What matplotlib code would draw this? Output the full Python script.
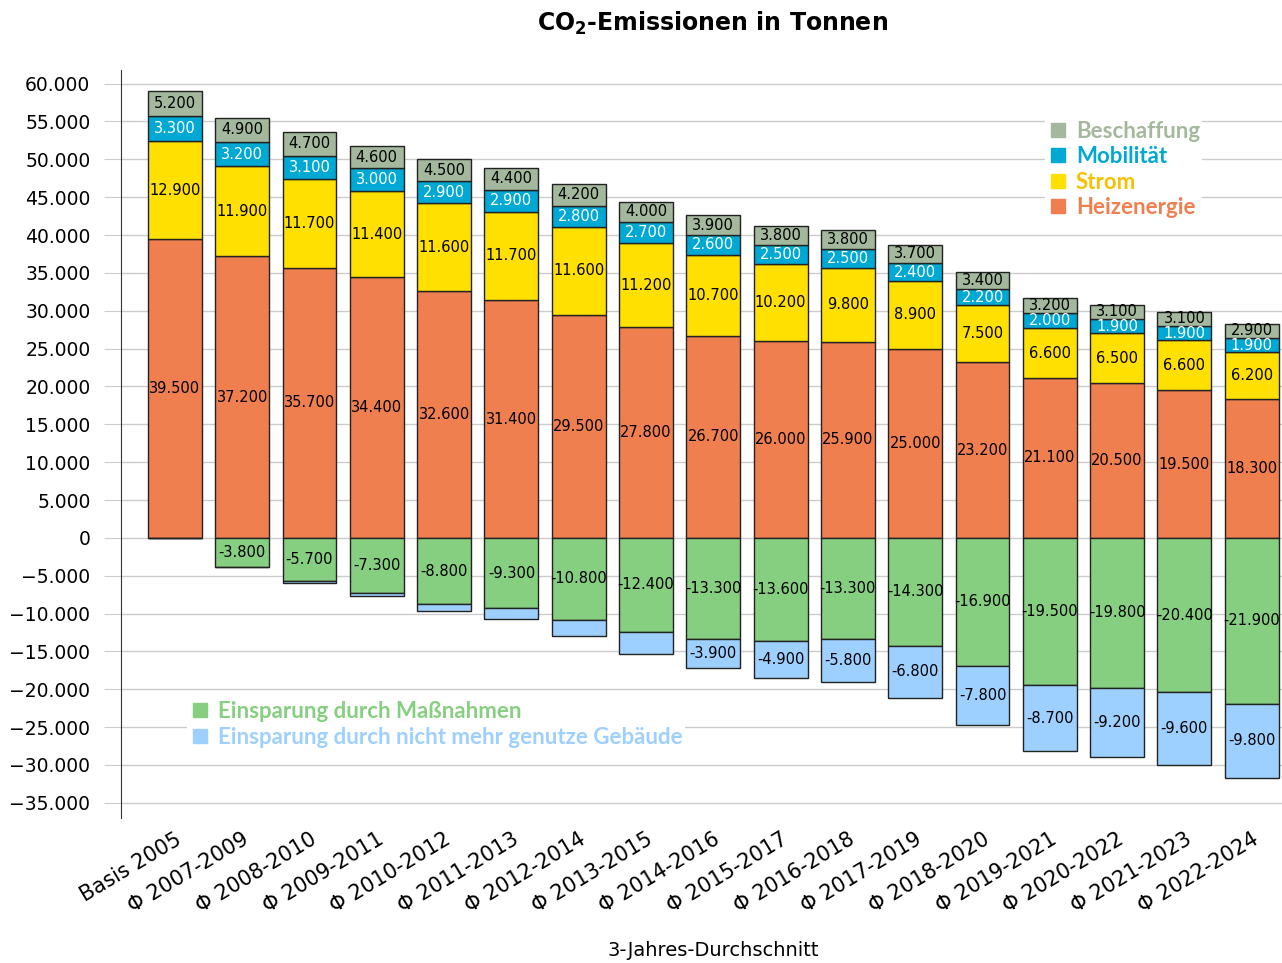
import numpy as np
import matplotlib.pyplot as plt
from matplotlib.lines import Line2D

# Zeiträume
zeitraum = ['Basis 2005', 'Φ 2007-2009', 'Φ 2008-2010', 'Φ 2009-2011', 'Φ 2010-2012',
            'Φ 2011-2013', 'Φ 2012-2014', 'Φ 2013-2015', 'Φ 2014-2016', 'Φ 2015-2017',
            'Φ 2016-2018', 'Φ 2017-2019', 'Φ 2018-2020', 'Φ 2019-2021', 'Φ 2020-2022',
            'Φ 2021-2023', 'Φ 2022-2024']

# Werte in Tonnen
heizenergie = [39500, 37200, 35700, 34400, 32600, 31400, 29500, 27800, 26700, 26000,
               25900, 25000, 23200, 21100, 20500, 19500, 18300]
strom = [12900, 11900, 11700, 11400, 11600, 11700, 11600, 11200, 10700, 10200,
         9800, 8900, 7500, 6600, 6500, 6600, 6200]
mobilitaet = [3300, 3200, 3100, 3000, 2900, 2900, 2800, 2700, 2600, 2500,
              2500, 2400, 2200, 2000, 1900, 1900, 1900]
beschaffung = [5200, 4900, 4700, 4600, 4500, 4400, 4200, 4000, 3900, 3800,
               3800, 3700, 3400, 3200, 3100, 3100, 2900]
massnahmen = [0, -3800, -5700, -7300, -8800, -9300, -10800, -12400, -13300, -13600,
              -13300, -14300, -16900, -19500, -19800, -20400, -21900]
gebaeude = [0, 0, -200, -400, -900, -1400, -2200, -2900, -3900, -4900,
            -5800, -6800, -7800, -8700, -9200, -9600, -9800]

c_heiz = '#F07F4F'
c_strom = '#FFE000'
c_mob = '#00A8D4'
c_besch = '#A3B89C'
c_mass = '#86CE80'
c_geb = '#9DCFFF'

def fmt(v):
    return f'{v:,.0f}'.replace(',', '.')

fig = plt.figure(figsize=(12.82, 9.63), dpi=100)
ax = fig.add_axes([0.0944, 0.1506, 0.9056, 0.7767])

x = np.arange(len(zeitraum))
w = 0.8
ek = dict(edgecolor='#222222', linewidth=1.0, zorder=3)

heiz = np.array(heizenergie)
st = np.array(strom)
mob = np.array(mobilitaet)
mass = np.array(massnahmen)

ax.bar(x, heiz, w, color=c_heiz, **ek)
ax.bar(x, st, w, bottom=heiz, color=c_strom, **ek)
ax.bar(x, mob, w, bottom=heiz + st, color=c_mob, **ek)
# im Original ist das Beschaffungs-Segment so hoch wie das Mobilitaets-Segment
ax.bar(x, mob, w, bottom=heiz + st + mob, color=c_besch, **ek)
ax.bar(x, mass, w, color=c_mass, **ek)
ax.bar(x, gebaeude, w, bottom=mass, color=c_geb, **ek)

fs = 10.5
for i in x:
    ax.text(i, heiz[i] / 2, fmt(heizenergie[i]), ha='center', va='center', fontsize=fs, zorder=4)
    ax.text(i, heiz[i] + st[i] / 2, fmt(strom[i]), ha='center', va='center', fontsize=fs, zorder=4)
    ax.text(i, heiz[i] + st[i] + mob[i] / 2, fmt(mobilitaet[i]), ha='center', va='center',
            fontsize=fs, color='white', zorder=4)
    ax.text(i, heiz[i] + st[i] + mob[i] * 1.5, fmt(beschaffung[i]), ha='center', va='center',
            fontsize=fs, zorder=4)
    if massnahmen[i] != 0:
        ax.text(i, mass[i] / 2, fmt(massnahmen[i]), ha='center', va='center',
                fontsize=fs, zorder=4)
    if gebaeude[i] <= -3500:
        ax.text(i, mass[i] + gebaeude[i] / 2, fmt(gebaeude[i]), ha='center', va='center',
                fontsize=fs, zorder=4)

ax.set_xlim(-0.8, 16.45)
ax.set_ylim(-37000, 61800)
ax.set_yticks(np.arange(-35000, 60001, 5000))
ax.set_yticklabels([fmt(v).replace('-', '\u2212') for v in np.arange(-35000, 60001, 5000)],
                   fontsize=13.5)
ax.set_xticks(x)
ax.set_xticklabels(zeitraum, rotation=31, ha='right', rotation_mode='anchor', fontsize=15)
ax.tick_params(axis='x', length=0, pad=8)
ax.tick_params(axis='y', length=12, color='#cccccc', pad=10)
ax.grid(axis='y', color='#cccccc', linewidth=1, zorder=0)
ax.set_axisbelow(True)
for s in ['top', 'right', 'bottom']:
    ax.spines[s].set_visible(False)
ax.spines['left'].set_color('#333333')

fig.text(0.556, 0.976, 'CO$_\\mathregular{2}$-Emissionen in Tonnen', ha='center', va='center',
         fontsize=17, fontweight='bold')
fig.text(0.556, 0.013, '3-Jahres-Durchschnitt', ha='center', va='center', fontsize=14)

def sq(c):
    return Line2D([], [], marker='s', linestyle='none', markersize=10, color=c)

leg_prop = {'family': 'Lato', 'weight': 'bold', 'size': 16}

leg1 = ax.legend([sq(c_besch), sq(c_mob), sq(c_strom), sq(c_heiz)],
                 ['Beschaffung', 'Mobilität', 'Strom', 'Heizenergie'],
                 loc='upper left', bbox_to_anchor=(0.786, 0.95), frameon=True, fancybox=False,
                 edgecolor='none', framealpha=1, borderpad=0.1, labelspacing=0.2,
                 handletextpad=0.3, handlelength=1.0, prop=leg_prop)
for t, c in zip(leg1.get_texts(), [c_besch, c_mob, '#F7C000', c_heiz]):
    t.set_color(c)
ax.add_artist(leg1)

leg2 = ax.legend([sq(c_mass), sq(c_geb)],
                 ['Einsparung durch Maßnahmen', 'Einsparung durch nicht mehr genutze Gebäude'],
                 loc='upper left', bbox_to_anchor=(0.047, 0.174), frameon=True, fancybox=False,
                 edgecolor='none', framealpha=1, borderpad=0.1, labelspacing=0.2,
                 handletextpad=0.3, handlelength=1.0, prop=leg_prop)
for t, c in zip(leg2.get_texts(), [c_mass, c_geb]):
    t.set_color(c)

fig.savefig('out.png', dpi=100)
